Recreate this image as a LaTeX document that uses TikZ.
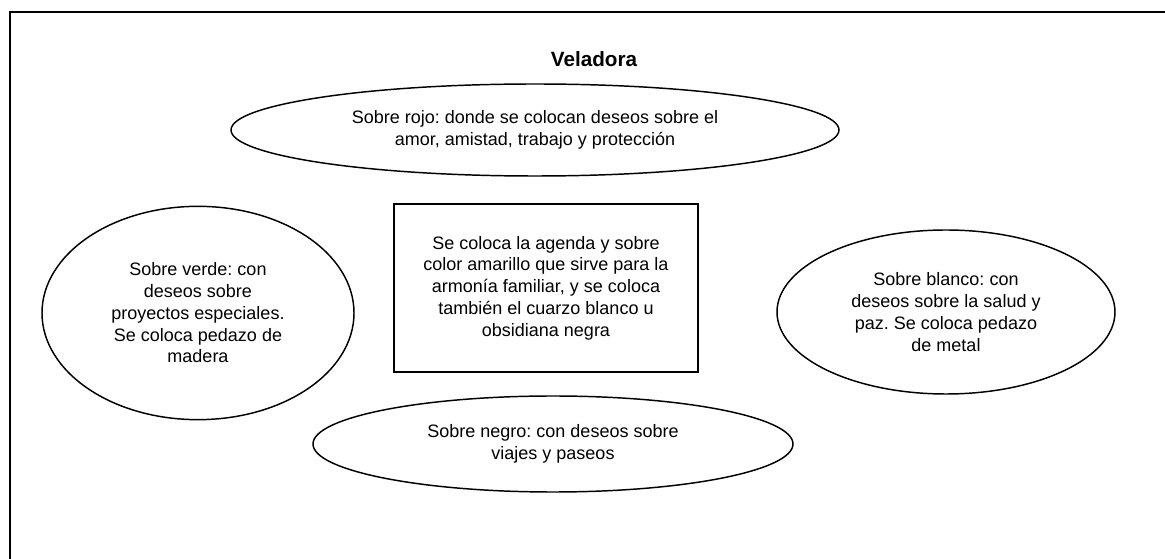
\documentclass[tikz,border=0pt]{standalone}
\usepackage{fontspec}
\setmainfont{Liberation Sans}
\usetikzlibrary{shapes.geometric}
\frenchspacing
\tikzset{
	sobre/.style={draw, line width=1.1pt, ellipse, inner sep=0pt, align=center},
	caja/.style={draw, line width=1.3pt, rectangle, inner sep=0pt, align=center}
}
\begin{document}
\begin{tikzpicture}[x=0.75pt, y=-0.75pt, font=\fontsize{13.5}{16.3}\selectfont]
		\useasboundingbox (0,0) rectangle (1165,559);
		% marco
		\begin{scope}
			\clip (0,0) rectangle (1165,559);
			\draw[line width=1.6pt] (10,570) -- (10,12) -- (1180,12);
		\end{scope}
		% titulo
		\node[font=\fontsize{15.5}{18}\selectfont\bfseries] (titulo) at (594,59) {Veladora};
		% sobres
		\node[sobre, minimum width=456pt, minimum height=69pt] (rojo) at (535,130)
			{Sobre rojo: donde se colocan deseos sobre el\\amor, amistad, trabajo y protección};
		\node[sobre, minimum width=234pt, minimum height=160pt] (verde) at (198,313)
			{Sobre verde: con\\deseos sobre\\proyectos especiales.\\Se coloca pedazo de\\madera};
		\node[caja, minimum width=228pt, minimum height=126pt] (agenda) at (546,288)
			{Se coloca la agenda y sobre\\color amarillo que sirve para la\\armonía familiar, y se coloca\\también el cuarzo blanco u\\obsidiana negra};
		\node[sobre, minimum width=253.5pt, minimum height=123pt] (blanco) at (946,312)
			{Sobre blanco: con\\deseos sobre la salud y\\paz. Se coloca pedazo\\de metal};
		\node[sobre, minimum width=360pt, minimum height=72pt] (negro) at (553,444)
			{Sobre negro: con deseos sobre\\viajes y paseos};
	\end{tikzpicture}
\end{document}
